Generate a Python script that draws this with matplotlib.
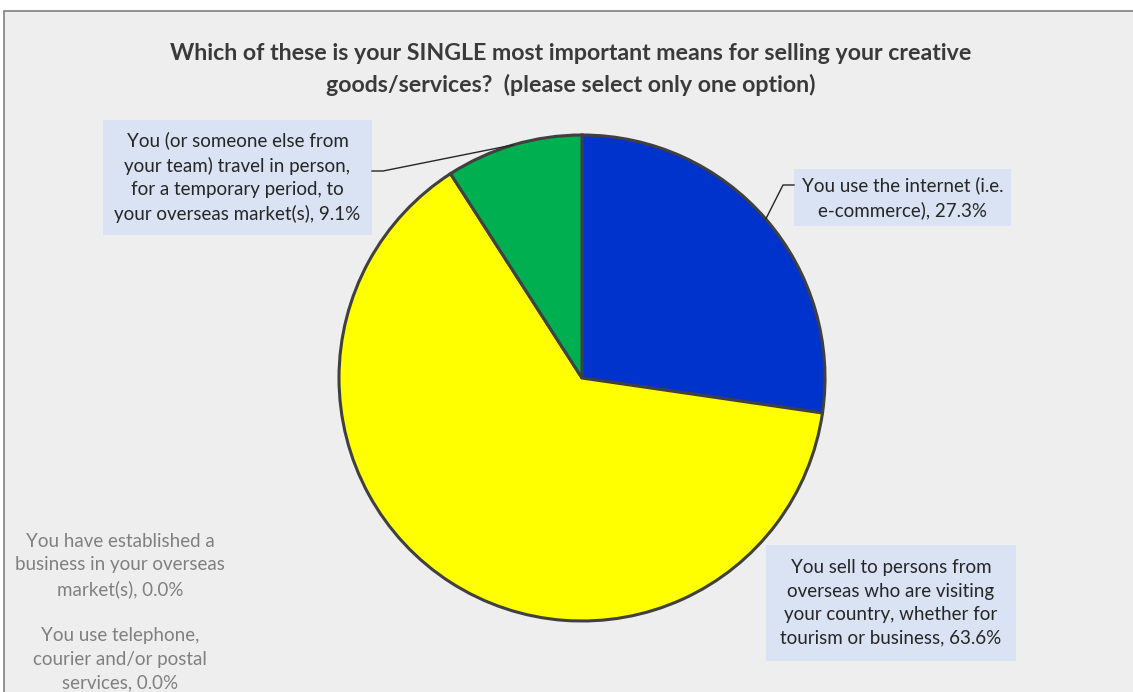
import numpy as np
import matplotlib.pyplot as plt
from matplotlib.patches import Rectangle
from matplotlib.lines import Line2D

# Survey responses (share of respondents, %)
categories = [
    "You use the internet (i.e.\ne-commerce)",
    "You sell to persons from\noverseas who are visiting\nyour country, whether for\ntourism or business",
    "You (or someone else from\nyour team) travel in person,\nfor a temporary period, to\nyour overseas market(s)",
    "You have established a\nbusiness in your overseas\nmarket(s)",
    "You use telephone,\ncourier and/or postal\nservices",
]
shares = [27.3, 63.6, 9.1, 0.0, 0.0]
colors = ["#0033CC", "#FFFF00", "#00B050", "#7F7F7F", "#A5A5A5"]

title = ("Which of these is your SINGLE most important means for selling your creative\n"
         "goods/services?  (please select only one option)")

W, H = 1133, 692
fig = plt.figure(figsize=(W / 100, H / 100), dpi=100)
fig.patch.set_facecolor("white")
FONT = "Lato"


def fx(px):
    return px / W


def fy(py):
    return 1 - py / H


# chart area background with frame
fig.patches.append(Rectangle((fx(4), fy(720)), fx(1160), (720 - 11) / H,
                             transform=fig.transFigure, facecolor="#EEEEEE",
                             edgecolor="#7F7F7F", linewidth=1.2, zorder=0))

fig.text(fx(571), fy(69.5), title, ha="center", va="center", fontsize=16.7,
         fontweight="bold", color="#3A3A3A", family=FONT, linespacing=1.5,
         zorder=5)

# pie axes: centre (582, 378) px, radius 243 px
cx, cy, r = 582, 378, 243
ax = fig.add_axes([fx(cx - r), fy(cy + r), 2 * r / W, 2 * r / H])
ax.set_zorder(2)
ax.patch.set_visible(False)

vals = np.array(shares)
nz = vals > 0
wedges, _ = ax.pie(vals[nz], colors=[c for c, k in zip(colors, nz) if k],
                   startangle=90, counterclock=False, radius=1,
                   wedgeprops=dict(edgecolor="#404040", linewidth=2.2))
ax.set_xlim(-1, 1)
ax.set_ylim(-1, 1)
ax.set_aspect("equal")
ax.axis("off")

# mid-angle of each slice (degrees, standard orientation)
fracs = vals / vals.sum()
starts = 90 - 360 * np.concatenate([[0], np.cumsum(fracs)[:-1]])
mids = starts - 180 * fracs


def edge_px(i):
    a = np.deg2rad(mids[i])
    x, y = ax.transData.transform((np.cos(a), np.sin(a)))
    return x, H - y


def label_box(text, box, color="#262626", fill="#DAE3F3"):
    x0, y0, x1, y1 = box
    if fill:
        fig.patches.append(Rectangle((fx(x0), fy(y1)), fx(x1 - x0), (y1 - y0) / H,
                                     transform=fig.transFigure, facecolor=fill,
                                     edgecolor="none", zorder=3))
    fig.text(fx((x0 + x1) / 2), fy((y0 + y1) / 2), text, ha="center", va="center",
             fontsize=13.5, color=color, family=FONT, linespacing=1.47, zorder=4)


def leader(points):
    xs = [fx(p[0]) for p in points]
    ys = [fy(p[1]) for p in points]
    fig.lines.append(Line2D(xs, ys, transform=fig.transFigure, color="#262626",
                            linewidth=1.0, zorder=4))


labels = [f"{c}, {v:.1f}%" for c, v in zip(categories, shares)]

# internet
label_box(labels[0], (794, 169, 1011, 226))
leader([(794, 185), (783, 185), edge_px(0)])
# visitors
label_box(labels[1], (766, 545, 1016, 661))
# travel in person
label_box(labels[2], (103, 120, 372, 235))
leader([(372, 171), (383, 171), edge_px(2)])
# zero-share categories
label_box(labels[3], (20, 542 - 35, 220, 589 + 35), color="#808080", fill=None)
label_box(labels[4], (20, 636 - 35, 220, 683 + 35), color="#808080", fill=None)

fig.savefig("out.png", dpi=100, facecolor=fig.get_facecolor())
